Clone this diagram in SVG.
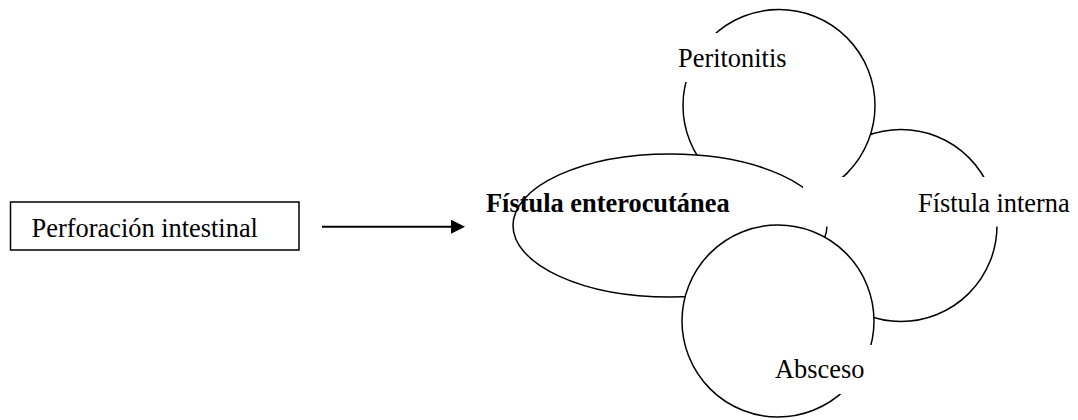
<svg xmlns="http://www.w3.org/2000/svg" width="1078" height="420" viewBox="0 0 1078 420">
<style>
.shape{fill:#fff;stroke:#000;stroke-width:1.5}
.lbl{font-family:"Liberation Serif","Times New Roman",serif;font-size:26.4px;fill:#000}
.bold{font-weight:bold}
.conn{stroke:#000;stroke-width:2;fill:none}
</style>
<defs>
<marker id="arrow" markerUnits="userSpaceOnUse" markerWidth="14" markerHeight="14" refX="4" refY="7" orient="auto">
<path d="M0,0 L14,7 L0,14 Z" fill="#000"/>
</marker>
<clipPath id="clipFI"><path clip-rule="evenodd" d="M0 0H1078V420H0Z M803 177H1078V226.5H803Z"/></clipPath>
<clipPath id="clipPer"><path clip-rule="evenodd" d="M0 0H1078V420H0Z M670 33H800V82H670Z M803 177H1078V226.5H803Z"/></clipPath>
<clipPath id="clipAbs"><path clip-rule="evenodd" d="M0 0H1078V420H0Z M765 345H880V394H765Z"/></clipPath>
</defs>
<g id="fistula-interna">
<circle class="shape" cx="901" cy="225.5" r="96" clip-path="url(#clipFI)"/>
<text class="lbl" x="918" y="211.5">Fístula interna</text>
</g>
<g id="peritonitis">
<circle class="shape" cx="779" cy="105.5" r="96" clip-path="url(#clipPer)"/>
<text class="lbl" x="678" y="66.5">Peritonitis</text>
</g>
<g id="fistula-enterocutanea">
<ellipse class="shape" cx="670" cy="225.5" rx="157" ry="71.5" clip-path="url(#clipFI)"/>
<text class="lbl bold" x="486" y="211.5">Fístula enterocutánea</text>
</g>
<g id="absceso">
<circle class="shape" cx="778" cy="321" r="96" clip-path="url(#clipAbs)"/>
<text class="lbl" x="775" y="378">Absceso</text>
</g>
<g id="perforacion-intestinal">
<rect class="shape" x="10.5" y="202" width="288.5" height="48"/>
<text class="lbl" x="31.5" y="237">Perforación intestinal</text>
</g>
<g id="connectors">
<line class="conn" x1="322" y1="226.7" x2="455" y2="226.7" marker-end="url(#arrow)"/>
</g>
</svg>
